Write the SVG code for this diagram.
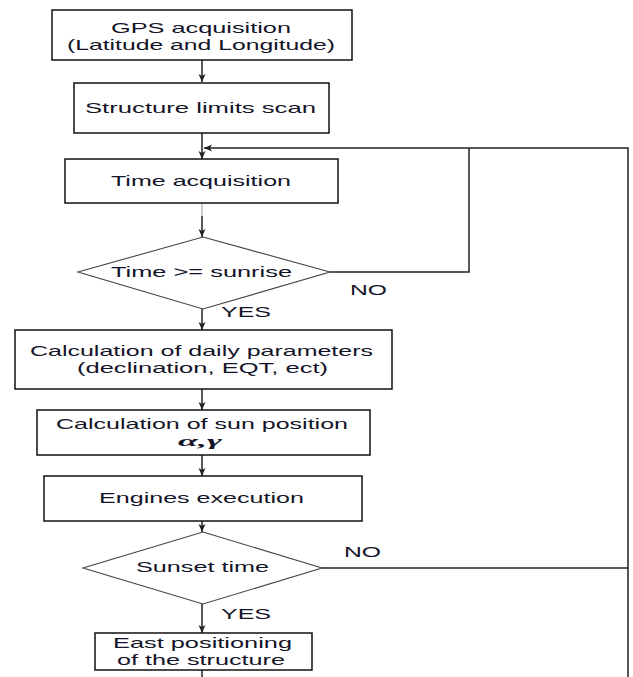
<svg xmlns="http://www.w3.org/2000/svg" width="633" height="677" viewBox="0 0 633 677">
<defs>
<style>
.box{fill:#fff;stroke:#111;stroke-width:1.5}
.dia{fill:#fff;stroke:#444;stroke-width:1.1}
.t{font-family:"Liberation Sans",Arial,sans-serif;font-size:14.5px;fill:#141428}
.g{font-family:"Liberation Serif","Times New Roman",serif;font-size:15px;font-weight:bold;font-style:italic;fill:#141428}
.c{fill:none;stroke:#222;stroke-width:1.5}
</style>
<marker id="ah" viewBox="0 0 8 8" refX="8" refY="4" markerWidth="8" markerHeight="8" markerUnits="userSpaceOnUse" orient="auto">
<path d="M0,0.5 L8,4 L0,7.5 L2,4 Z" fill="#222"/>
</marker>
</defs>
<rect width="633" height="677" fill="#fff"/>
<g id="connectors">
<path class="c" d="M202,60 V82" marker-end="url(#ah)"/>
<path class="c" d="M202,133 V159" marker-end="url(#ah)"/>
<path d="M202,203 V216" stroke="#bbb" stroke-width="1.5" fill="none"/>
<path class="c" d="M202,216 V237" marker-end="url(#ah)"/>
<path class="c" d="M202,309 V330" marker-end="url(#ah)"/>
<path class="c" d="M202,389 V410" marker-end="url(#ah)"/>
<path class="c" d="M202,455 V476" marker-end="url(#ah)"/>
<path class="c" d="M202,521 V532" marker-end="url(#ah)"/>
<path class="c" d="M202,604 V633" marker-end="url(#ah)"/>
<path class="c" d="M202,670 V677"/>
<path class="c" d="M330,272 H469 V148"/>
<path class="c" d="M628,677 V148 H204" marker-end="url(#ah)"/>
<path class="c" d="M322,568 H628"/>
<text class="t" x="350" y="295" textLength="37" lengthAdjust="spacingAndGlyphs">NO</text>
<text class="t" x="221" y="317" textLength="50" lengthAdjust="spacingAndGlyphs">YES</text>
<text class="t" x="344" y="557" textLength="37" lengthAdjust="spacingAndGlyphs">NO</text>
<text class="t" x="221" y="619" textLength="50" lengthAdjust="spacingAndGlyphs">YES</text>
</g>
<g id="gps">
<rect class="box" x="52" y="10" width="300" height="50"/>
<text class="t" x="111" y="33" textLength="180" lengthAdjust="spacingAndGlyphs">GPS acquisition</text>
<text class="t" x="67" y="50" textLength="268" lengthAdjust="spacingAndGlyphs">(Latitude and Longitude)</text>
</g>
<g id="structure-scan">
<rect class="box" x="74" y="83" width="255" height="50"/>
<text class="t" x="85" y="113" textLength="231" lengthAdjust="spacingAndGlyphs">Structure limits scan</text>
</g>
<g id="time-acquisition">
<rect class="box" x="65" y="159" width="273" height="44"/>
<text class="t" x="111" y="186" textLength="180" lengthAdjust="spacingAndGlyphs">Time acquisition</text>
</g>
<g id="sunrise-check">
<polygon class="dia" points="203,237 330,272 203,309 78,272"/>
<text class="t" x="111" y="277" textLength="181" lengthAdjust="spacingAndGlyphs">Time &gt;= sunrise</text>
</g>
<g id="daily-params">
<rect class="box" x="15" y="330" width="377" height="59"/>
<text class="t" x="30" y="356" textLength="343" lengthAdjust="spacingAndGlyphs">Calculation of daily parameters</text>
<text class="t" x="77" y="373" textLength="251" lengthAdjust="spacingAndGlyphs">(declination, EQT, ect)</text>
</g>
<g id="sun-position">
<rect class="box" x="37" y="410" width="333" height="45"/>
<text class="t" x="56" y="429" textLength="292" lengthAdjust="spacingAndGlyphs">Calculation of sun position</text>
<text class="g" x="178" y="446" textLength="44" lengthAdjust="spacingAndGlyphs">α,γ</text>
</g>
<g id="engines">
<rect class="box" x="44" y="476" width="318" height="45"/>
<text class="t" x="99" y="503" textLength="205" lengthAdjust="spacingAndGlyphs">Engines execution</text>
</g>
<g id="sunset-check">
<polygon class="dia" points="203,532 322,568 203,604 83,568"/>
<text class="t" x="136" y="572" textLength="133" lengthAdjust="spacingAndGlyphs">Sunset time</text>
</g>
<g id="east-positioning">
<rect class="box" x="95" y="633" width="217" height="37"/>
<text class="t" x="113" y="648" textLength="179" lengthAdjust="spacingAndGlyphs">East positioning</text>
<text class="t" x="117" y="665" textLength="168" lengthAdjust="spacingAndGlyphs">of the structure</text>
</g>
</svg>
